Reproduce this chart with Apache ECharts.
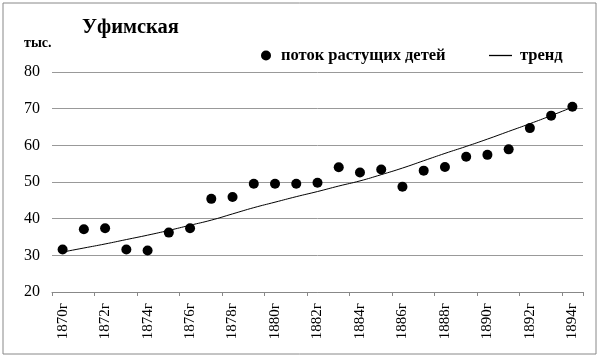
<!DOCTYPE html>
<html>
<head>
<meta charset="utf-8">
<script src="https://cdn.jsdelivr.net/npm/echarts@6/dist/echarts.min.js"></script>
<style>
html,body{margin:0;padding:0;background:#fff;}
#c{width:600px;height:358px;}
</style>
</head>
<body>
<div id="c"></div>
<script>
const years = ['1870г','1871г','1872г','1873г','1874г','1875г','1876г','1877г','1878г','1879г','1880г','1881г','1882г','1883г','1884г','1885г','1886г','1887г','1888г','1889г','1890г','1891г','1892г','1893г','1894г'];
const flowValues = [31.6,37.1,37.4,31.6,31.3,36.2,37.4,45.4,45.9,49.5,49.5,49.5,49.8,54.0,52.6,53.4,48.7,53.1,54.1,56.9,57.4,58.9,64.7,68.1,70.5];
const trendValues = [30.9,32.0,33.1,34.3,35.5,36.8,38.2,39.6,41.3,43.0,44.5,46.0,47.4,48.9,50.3,52.0,53.8,55.8,57.8,59.7,61.7,63.8,65.9,68.1,70.4];
const yTicks = [20,30,40,50,60,70,80];

const serif = '"Liberation Serif","DejaVu Serif",serif';
const chart = echarts.init(document.getElementById('c'));
chart.setOption({
  animation:false,
  backgroundColor:'#fff',
  title:[
    {text:'Уфимская',left:77,top:12,textStyle:{fontFamily:serif,fontWeight:'bold',fontSize:20.5,color:'#000'}},
    {text:'тыс.',left:19,top:31,textStyle:{fontFamily:serif,fontWeight:'bold',fontSize:14,color:'#000'}}
  ],
  legend:[
    {data:[{name:'поток растущих детей',icon:'circle'}],left:256,top:42,itemWidth:10,itemHeight:10,
     textStyle:{fontFamily:serif,fontWeight:'bold',fontSize:16.5,color:'#000',padding:[0,0,0,5]}},
    {data:[{name:'тренд',icon:'rect'}],left:484,top:42,itemWidth:23,itemHeight:1.3,
     textStyle:{fontFamily:serif,fontWeight:'bold',fontSize:16.5,color:'#000',padding:[0,0,0,3]}}
  ],
  graphic:[{type:'rect',shape:{x:3,y:3,width:593,height:351},style:{fill:'none',stroke:'#888',lineWidth:1},silent:true}],
  grid:{left:52,right:17,top:72,bottom:66,containLabel:false},
  xAxis:{type:'category',data:years,boundaryGap:true,
    axisLine:{lineStyle:{color:'#888'}},
    axisTick:{show:true,length:4,lineStyle:{color:'#888'}},
    axisLabel:{rotate:90,interval:1,fontFamily:serif,fontSize:15,color:'#000',margin:11}},
  yAxis:{type:'value',min:20,max:80,interval:10,
    axisLine:{show:false},axisTick:{show:false},
    splitLine:{lineStyle:{color:'#999'}},
    axisLabel:{fontFamily:serif,fontSize:16,color:'#000',margin:12,
      formatter:v=>yTicks.includes(v)?String(v):''}},
  series:[
    {name:'поток растущих детей',type:'scatter',data:flowValues,symbol:'circle',symbolSize:10,
     itemStyle:{color:'#000',opacity:1},z:3},
    {name:'тренд',type:'line',data:trendValues,smooth:true,showSymbol:false,symbol:'none',
     lineStyle:{color:'#000',width:1},itemStyle:{color:'#000'},z:2}
  ]
});
</script>
</body>
</html>
